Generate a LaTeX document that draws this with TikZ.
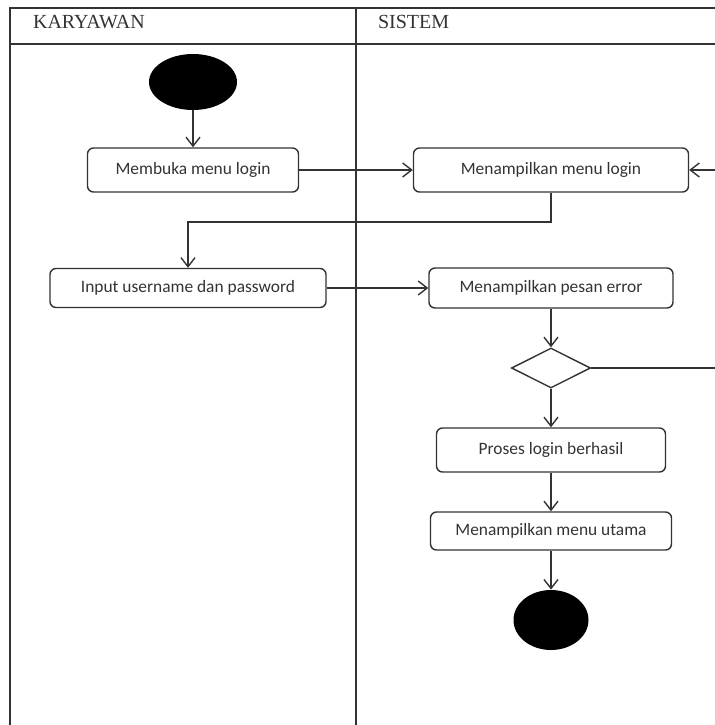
\documentclass[tikz,border=0pt]{standalone}
\usepackage{fontspec}
\setmainfont{Carlito}
\newfontfamily\headfont{Liberation Serif}
\usepackage{xcolor}
\usepackage{tikz}
\usetikzlibrary{shapes.geometric,arrows.meta,positioning,calc}
\definecolor{garis}{HTML}{333333}
\tikzset{
    lane/.style={draw=garis, line width=0.75pt},
    laneh/.style={anchor=west, font=\headfont\fontsize{10}{12}\selectfont, text=garis},
    activity/.style={rectangle, draw=garis, line width=0.7pt, rounded corners=3pt, align=center, font=\fontsize{8.7}{10}\selectfont, text=garis, inner sep=0pt},
    decision/.style={diamond, draw=garis, line width=0.7pt, minimum width=39.5pt, minimum height=20pt, inner sep=0pt},
    start/.style={ellipse, fill=black, inner sep=0pt},
    flow/.style={-{Straight Barb[length=4.5pt, width=7pt]}, draw=garis, line width=0.7pt},
}
\begin{document}
\begin{tikzpicture}[x=0.5pt, y=-0.5pt]
    \useasboundingbox (0,0) rectangle (715,725);
    % swimlanes
    \draw[lane] (10,725) -- (10,8) -- (720,8);
    \draw[lane] (10,44) -- (720,44);
    \draw[lane] (356,8) -- (356,725);
    \node[laneh] (karyawan) at (26,22) {KARYAWAN};
    \node[laneh] (sistem) at (371,22) {SISTEM};

    % nodes
    \node[start, minimum width=44pt, minimum height=28pt] (mulai) at (193,82) {};
    \node[activity, minimum width=105.5pt, minimum height=22pt] (buka) at (193,170) {Membuka menu login};
    \node[activity, minimum width=137.5pt, minimum height=22pt] (tampil) at (551,170) {Menampilkan menu login};
    \node[activity, minimum width=138pt, minimum height=19.5pt] (input) at (188,288) {Input username dan password};
    \node[activity, minimum width=122pt, minimum height=20pt] (error) at (551,288) {Menampilkan pesan error};
    \node[decision] (cek) at (551,368) {};
    \node[activity, minimum width=114.5pt, minimum height=22pt] (berhasil) at (551,450) {Proses login berhasil};
    \node[activity, minimum width=120.5pt, minimum height=19pt] (utama) at (551,531) {Menampilkan menu utama};
    \node[start, minimum width=37.5pt, minimum height=30pt] (selesai) at (551,620) {};

    \coordinate (belok) at (0,222);
    \coordinate (kanan) at (722,0);

    % flows
    \draw[flow] (mulai) -- (buka);
    \draw[flow] (buka) -- (tampil);
    \draw[flow] (tampil.south) -- (tampil.south |- belok) -| (input.north);
    \draw[flow] (input) -- (error);
    \draw[flow] (error) -- (cek);
    \draw[flow] (cek.east) -- (cek.east -| kanan) |- (tampil.east);
    \draw[flow] (cek) -- (berhasil);
    \draw[flow] (berhasil) -- (utama);
    \draw[flow] (utama) -- (selesai);
\end{tikzpicture}
\end{document}
